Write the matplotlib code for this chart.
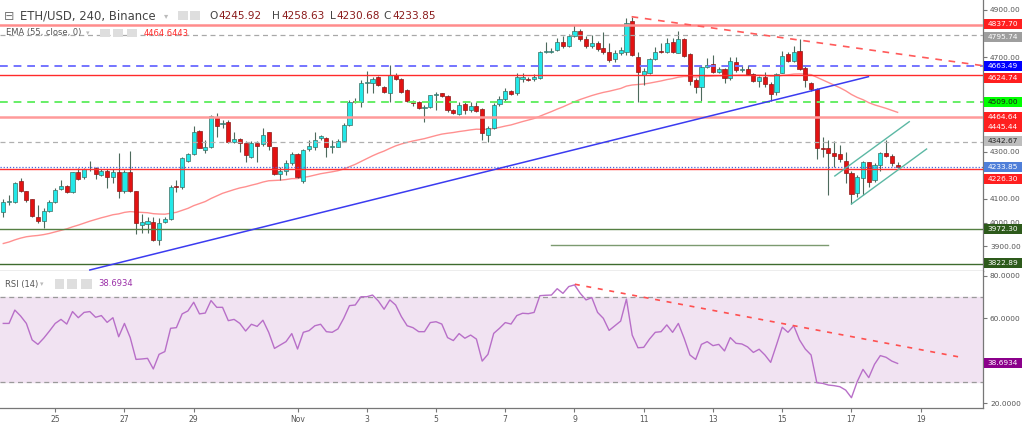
import numpy as np
import matplotlib.pyplot as plt
from matplotlib.patches import Rectangle

# ETH/USD 4h bars, first bar Oct 23 12:00 (x axis in days of October, Nov 1 = 32)
first_bar_day = 23.5

opens = [4046, 4089, 4089, 4176, 4135, 4098, 4025, 4007, 4049, 4089,
         4141, 4155, 4131, 4213, 4192, 4225, 4230, 4202, 4220, 4192,
         4216, 4134, 4216, 4134, 3990, 3993, 4004, 3926, 4004, 4014,
         4152, 4152, 4262, 4290, 4389, 4307, 4321, 4448, 4418, 4427,
         4343, 4354, 4338, 4279, 4338, 4331, 4382, 4322, 4206, 4220,
         4251, 4290, 4176, 4310, 4322, 4357, 4357, 4322, 4321, 4345,
         4413, 4512, 4512, 4590, 4593, 4615, 4575, 4550, 4625, 4607,
         4561, 4516, 4512, 4487, 4491, 4540, 4547, 4536, 4477, 4460,
         4502, 4477, 4495, 4480, 4371, 4402, 4501, 4522, 4557, 4547,
         4606, 4608, 4607, 4614, 4722, 4724, 4731, 4766, 4748, 4792,
         4812, 4778, 4748, 4762, 4740, 4722, 4691, 4719, 4724, 4855,
         4700, 4625, 4635, 4691, 4724, 4721, 4766, 4719, 4777, 4714,
         4604, 4573, 4657, 4671, 4639, 4649, 4611, 4681, 4646, 4649,
         4629, 4601, 4618, 4587, 4554, 4635, 4714, 4686, 4728, 4653,
         4592, 4564, 4314, 4314, 4296, 4290, 4261, 4211, 4127, 4190,
         4255, 4180, 4244, 4296, 4282, 4245.92]
highs = [4099, 4117, 4173, 4187, 4135, 4098, 4075, 4060, 4096, 4145,
         4180, 4159, 4216, 4230, 4230, 4262, 4237, 4226, 4226, 4226,
         4296, 4223, 4305, 4134, 4036, 4025, 4025, 4018, 4025, 4159,
         4180, 4276, 4296, 4409, 4392, 4350, 4455, 4463, 4435, 4434,
         4385, 4357, 4347, 4347, 4347, 4399, 4385, 4322, 4237, 4265,
         4300, 4293, 4310, 4350, 4382, 4371, 4364, 4350, 4353, 4420,
         4519, 4526, 4604, 4643, 4618, 4620, 4578, 4667, 4632, 4611,
         4564, 4520, 4515, 4498, 4540, 4554, 4550, 4540, 4480, 4512,
         4515, 4512, 4512, 4484, 4410, 4505, 4535, 4570, 4560, 4632,
         4632, 4615, 4630, 4725, 4766, 4740, 4780, 4790, 4800, 4835,
         4820, 4790, 4795, 4770, 4808, 4759, 4731, 4745, 4865, 4872,
         4724, 4653, 4695, 4745, 4759, 4780, 4780, 4812, 4780, 4717,
         4611, 4667, 4695, 4710, 4660, 4653, 4702, 4700, 4667, 4667,
         4632, 4621, 4639, 4597, 4632, 4728, 4724, 4748, 4776, 4663,
         4597, 4568, 4364, 4350, 4347, 4328, 4300, 4220, 4202, 4262,
         4258, 4251, 4300, 4350, 4290, 4258.63]
lows = [4022, 4075, 4085, 4131, 4089, 4025, 3997, 3976, 4046, 4085,
        4138, 4127, 4127, 4180, 4183, 4220, 4183, 4197, 4145, 4166,
        4103, 4127, 4131, 3952, 3955, 3955, 3924, 3905, 4000, 4011,
        4131, 4142, 4258, 4286, 4314, 4293, 4314, 4364, 4400, 4338,
        4336, 4300, 4258, 4272, 4258, 4324, 4307, 4202, 4180, 4202,
        4244, 4187, 4166, 4304, 4307, 4350, 4279, 4293, 4319, 4343,
        4410, 4505, 4491, 4547, 4547, 4578, 4547, 4512, 4604, 4550,
        4512, 4495, 4480, 4427, 4484, 4477, 4530, 4470, 4460, 4455,
        4460, 4470, 4470, 4350, 4340, 4395, 4495, 4515, 4540, 4540,
        4595, 4600, 4600, 4610, 4717, 4718, 4725, 4740, 4742, 4785,
        4770, 4740, 4740, 4725, 4715, 4681, 4681, 4710, 4710, 4705,
        4512, 4582, 4629, 4688, 4718, 4718, 4718, 4717, 4702, 4583,
        4547, 4516, 4653, 4635, 4632, 4590, 4604, 4639, 4639, 4625,
        4597, 4573, 4573, 4516, 4540, 4635, 4681, 4681, 4646, 4575,
        4558, 4268, 4279, 4117, 4237, 4258, 4169, 4079, 4110, 4117,
        4149, 4173, 4220, 4279, 4240, 4230.68]
closes = [4089, 4092, 4169, 4135, 4096, 4029, 4007, 4049, 4089, 4138,
          4155, 4131, 4213, 4186, 4225, 4227, 4204, 4220, 4192, 4216,
          4134, 4216, 4134, 3997, 4001, 4005, 3926, 3997, 4015, 4152,
          4150, 4272, 4290, 4382, 4317, 4322, 4451, 4409, 4420, 4343,
          4352, 4338, 4286, 4338, 4324, 4371, 4324, 4206, 4220, 4254,
          4290, 4194, 4307, 4324, 4350, 4367, 4322, 4326, 4345, 4413,
          4512, 4510, 4590, 4593, 4607, 4583, 4554, 4625, 4607, 4554,
          4516, 4505, 4487, 4491, 4540, 4545, 4536, 4477, 4465, 4498,
          4477, 4494, 4474, 4378, 4402, 4498, 4522, 4557, 4544, 4618,
          4615, 4604, 4618, 4721, 4724, 4726, 4766, 4748, 4792, 4812,
          4778, 4748, 4762, 4735, 4722, 4688, 4719, 4731, 4846, 4710,
          4639, 4643, 4691, 4724, 4721, 4759, 4724, 4777, 4705, 4601,
          4573, 4657, 4667, 4639, 4650, 4611, 4684, 4646, 4648, 4629,
          4601, 4615, 4587, 4544, 4629, 4705, 4684, 4724, 4649, 4604,
          4564, 4314, 4310, 4293, 4282, 4268, 4211, 4121, 4194, 4258,
          4173, 4244, 4296, 4282, 4251, 4233.85]
rsi = [57.6, 57.6, 63.9, 61.1, 57.6, 49.8, 47.7, 50.6, 54.0, 57.6,
       59.5, 57.3, 63.2, 60.3, 62.8, 63.2, 60.5, 61.3, 58.1, 60.3,
       51.3, 57.6, 50.9, 40.6, 40.8, 41.1, 36.1, 43.0, 44.3, 55.3,
       55.6, 62.1, 63.5, 67.6, 62.1, 62.5, 68.4, 65.2, 65.2, 58.9,
       59.5, 57.6, 54.0, 57.2, 56.2, 59.1, 53.4, 45.8, 47.4, 49.0,
       52.8, 45.5, 53.4, 54.2, 56.5, 57.2, 53.7, 53.4, 55.0, 60.0,
       66.0, 66.3, 70.2, 70.2, 71.0, 68.2, 64.3, 68.7, 66.3, 60.8,
       56.5, 55.6, 53.7, 53.7, 58.0, 58.4, 57.3, 50.9, 49.5, 52.8,
       50.6, 52.1, 50.2, 39.8, 43.0, 52.9, 55.3, 58.0, 57.3, 61.3,
       62.4, 62.2, 62.8, 70.7, 70.9, 71.0, 74.0, 71.8, 75.0, 75.8,
       71.8, 68.7, 69.8, 62.8, 60.0, 54.3, 56.5, 58.7, 69.1, 52.1,
       46.1, 46.3, 50.2, 53.4, 53.7, 56.9, 53.4, 57.6, 50.6, 42.7,
       40.6, 47.7, 49.0, 47.1, 47.7, 44.6, 50.9, 48.2, 47.9, 46.5,
       43.9, 45.4, 42.7, 39.2, 47.4, 55.8, 53.4, 56.5, 49.8, 45.5,
       42.7, 29.6, 29.3, 28.5, 28.2, 27.7, 26.1, 22.5, 30.1, 35.9,
       32.0, 38.3, 42.4, 41.6, 39.8, 38.6934]
ema_seed = 3905.0
ema_last = 4464.6443

# horizontal levels drawn on the price pane
levels = [4837.70, 4795.74, 4663.49, 4624.74, 4509.00, 4445.44,
          4342.67, 4233.85, 4226.30, 3972.30, 3822.89]
level_colors = ['#ff8c8c', '#a8a8a8', '#7474ff', '#ff2a2a', '#66ee66', '#ff9a9a',
                '#b0b0b0', '#4a66e0', '#ff3030', '#557f42', '#3f6b2e']
level_styles = ['-', (0, (4, 3)), (0, (4, 3)), '-', (0, (4, 3)), '-',
                (0, (4, 3)), (0, (1, 1.5)), '-', '-', '-']
level_widths = [1.8, 0.9, 1.4, 1.0, 1.4, 1.8, 0.9, 0.9, 1.0, 1.0, 1.0]

# drawn trend lines (day, price)
blue_trend = ([26.00, 48.49], [3799.5, 4617.7])
red_trend = ([41.65, 51.80], [4871.6, 4664.2])
channel_up = ([47.52, 49.67], [4197.4, 4427.2])
channel_dn = ([48.00, 50.17], [4078.8, 4311.6])
support_seg = ([39.32, 47.32], [3905.0, 3905.0])
rsi_trend = ([40.01, 51.13], [76.1, 41.7])

day_ticks = [25, 27, 29, 32, 34, 36, 38, 40, 42, 44, 46, 48, 50]
day_labels = ['25', '27', '29', 'Nov', '3', '5', '7', '9', '11', '13', '15', '17', '19']
price_ticks = [3900, 4000, 4100, 4300, 4700, 4900]   # the others sit under tags
rsi_ticks = [20, 60, 80]

# price scale tags: text, pixel row, background, text colour
price_tags = [
    ('4837.70', 24.0, '#ff1f1f', 'white'),
    ('4795.74', 37.3, '#9e9e9e', 'white'),
    ('4663.49', 65.7, '#0000ff', 'white'),
    ('4624.74', 78.3, '#ff1f1f', 'white'),
    ('4509.00', 101.7, '#00ff00', '#1a1a1a'),
    ('%.2f' % ema_last, 116.7, '#ff1f1f', 'white'),
    ('4445.44', 127.3, '#ff1f1f', 'white'),
    ('4342.67', 141.0, '#bdbdbd', '#222222'),
    ('4233.85', 167.0, '#4f7fd9', 'white'),
    ('4226.30', 179.0, '#ff1f1f', 'white'),
    ('3972.30', 229.0, '#2d5a1b', 'white'),
    ('3822.89', 263.3, '#2d5a1b', 'white'),
    ('%.4f' % rsi[-1], 363.3, '#8b008b', 'white'),
]

W, H = 1024, 424
def fx(px):
    return px / W
def fy(py):
    return 1 - py / H

o = np.array(opens, float)
h = np.array(highs, float)
l = np.array(lows, float)
c = np.array(closes, float)
t = first_bar_day + np.arange(len(c)) / 6

# EMA(55) of closes
k = 2 / 56
ema = []
prev = ema_seed
for v in c:
    prev = prev + k * (v - prev)
    ema.append(prev)

fig = plt.figure(figsize=(10.24, 4.24), dpi=100)
ax = fig.add_axes([0, fy(271), fx(983), 271 / H])
ax_r = fig.add_axes([0, fy(408), fx(983), 137 / H], sharex=ax)

for a in (ax, ax_r):
    a.spines['left'].set_visible(False)
    a.spines['top'].set_visible(False)
    for s in ('right', 'bottom'):
        a.spines[s].set_color('#777777')
        a.spines[s].set_linewidth(0.9)
    a.yaxis.tick_right()
    a.tick_params(axis='y', length=3, width=0.8, color='#777777',
                  labelsize=5.3, labelcolor='#555555', pad=2)

ax.set_xlim(23.405, 51.80)
ax.set_ylim(3795.2, 4942.3)
ax.set_yticks(price_ticks)
ax.yaxis.set_major_formatter(plt.FormatStrFormatter('%.2f'))
ax.tick_params(axis='x', bottom=False, labelbottom=False)

# levels and drawings
for lv, col, ls, lw in zip(levels, level_colors, level_styles, level_widths):
    ax.axhline(lv, color=col, ls=ls, lw=lw, zorder=5)
ax.plot(*blue_trend, color='#3b3bf0', lw=1.1, zorder=5)
ax.plot(*red_trend, color='#ff5a5a', lw=1.2, ls=(0, (4, 4)), zorder=5)
ax.plot(*channel_up, color='#5cb8a4', lw=1.0, zorder=5)
ax.plot(*channel_dn, color='#5cb8a4', lw=1.0, zorder=5)
ax.plot(*support_seg, color='#7c9a70', lw=1.0, zorder=5)

ax.plot(t, ema, color='#ff9090', lw=1.0, zorder=2)

# candles
up = c >= o
wick = '#4d6a5c'
ax.vlines(t, l, h, color=wick, lw=0.8, zorder=3)
body_lo = np.minimum(o, c)
body_h = np.maximum(np.abs(c - o), 3.5)
ax.bar(t, body_h, bottom=body_lo, width=0.12,
       color=np.where(up, '#22e8e8', '#e31212'),
       edgecolor=np.where(up, '#3f6e62', '#8c1a1a'), lw=0.5, zorder=4)

# RSI pane
ax_r.set_ylim(17.65, 82.36)
ax_r.set_yticks(rsi_ticks)
ax_r.yaxis.set_major_formatter(plt.FormatStrFormatter('%.4f'))
ax_r.axhspan(30, 70, color='#f1e3f2', zorder=0)
ax_r.axhline(70, color='#9a9a9a', lw=0.9, ls=(0, (4, 3)), zorder=1)
ax_r.axhline(30, color='#9a9a9a', lw=0.9, ls=(0, (4, 3)), zorder=1)
ax_r.plot(t, rsi, color='#b86fc8', lw=1.0, zorder=3)
ax_r.plot(*rsi_trend, color='#ff5050', lw=1.2, ls=(0, (3, 4)), zorder=4)
ax_r.set_xticks(day_ticks)
ax_r.set_xticklabels(day_labels)
ax_r.tick_params(axis='x', length=3, width=0.8, color='#777777',
                 labelsize=5.5, labelcolor='#555555', pad=2)

# tags on the price scale, drawn over the axes
for txt, py, bg, fg in price_tags:
    fig.add_artist(Rectangle((fx(984), fy(py + 5)), fx(38), 10 / H,
                             transform=fig.transFigure, fc=bg, ec='none', zorder=5))
    fig.text(fx(1003), fy(py), txt, fontsize=5.3, color=fg,
             ha='center', va='center', zorder=6)

# header texts
def icons(xs, y0, y1):
    for x0, x1 in xs:
        fig.add_artist(Rectangle((fx(x0), fy(y1)), fx(x1 - x0), (y1 - y0) / H,
                                 transform=fig.transFigure, fc='#dedede', ec='none'))

fig.text(fx(4), fy(16), '\u229f', fontsize=9, color='#777777', va='center')
fig.text(fx(20), fy(16), 'ETH/USD, 240, Binance', fontsize=8.4, color='#444444', va='center')
fig.text(fx(164), fy(16), '\u25be', fontsize=6, color='#bbbbbb', va='center')
icons([(178, 188), (190, 200)], 11, 20)
for letter, lx, val, vx in [('O', 209, opens[-1], 218), ('H', 272, highs[-1], 281),
                            ('L', 330, lows[-1], 336), ('C', 383, closes[-1], 392)]:
    fig.text(fx(lx), fy(16), letter, fontsize=7.6, color='#444444', va='center')
    fig.text(fx(vx), fy(16), '%.2f' % val, fontsize=7.6, color='#8b1c1c', va='center')

fig.text(fx(6), fy(33), 'EMA (55, close, 0)', fontsize=6, color='#555555', va='center')
fig.text(fx(86), fy(33), '\u25be', fontsize=5, color='#bbbbbb', va='center')
icons([(100, 110), (113, 123), (127, 137)], 29, 37)
fig.text(fx(144), fy(33), '%.4f' % ema_last, fontsize=6, color='#ff2a2a', va='center')

fig.text(fx(5), fy(284), 'RSI (14)', fontsize=6, color='#555555', va='center')
fig.text(fx(40), fy(284), '\u25be', fontsize=5, color='#bbbbbb', va='center')
icons([(55, 64), (67, 77), (81, 92)], 279, 289)
fig.text(fx(98), fy(284), '%.4f' % rsi[-1], fontsize=6, color='#9b30a8', va='center')

fig.savefig('out.png', dpi=100)
